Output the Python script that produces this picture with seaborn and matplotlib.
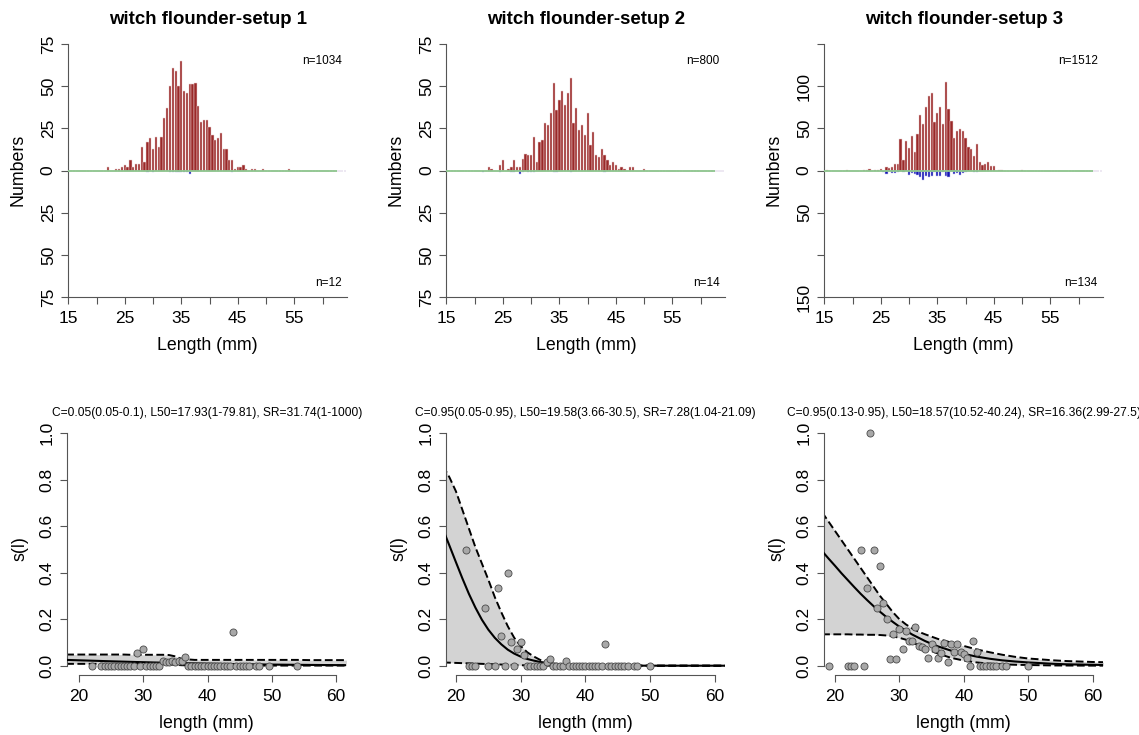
import numpy as np
import pandas as pd
import matplotlib.pyplot as plt
import seaborn as sns

sns.set_style("ticks")
plt.rcParams.update({
    "axes.edgecolor": "#555555",
    "axes.linewidth": 0.8,
    "axes.spines.top": False,
    "axes.spines.right": False,
    "text.color": "black",
    "axes.labelcolor": "black",
    "font.size": 12.5,
})
plt.rcParams["font.family"] = ["Liberation Sans", "DejaVu Sans"]

titles = ["witch flounder-setup 1", "witch flounder-setup 2", "witch flounder-setup 3"]
n_top = ["n=1034", "n=800", "n=1512"]
n_bottom = ["n=12", "n=14", "n=134"]
fit_text = [
    "C=0.05(0.05-0.1), L50=17.93(1-79.81), SR=31.74(1-1000)",
    "C=0.95(0.05-0.95), L50=19.58(3.66-30.5), SR=7.28(1.04-21.09)",
    "C=0.95(0.13-0.95), L50=18.57(10.52-40.24), SR=16.36(2.99-27.5)",
]

# ---- length frequencies (0.5 mm classes) ----
len1_red = [22, 23.5, 24, 24.5, 25, 25.5, 26, 26.5, 27, 27.5, 28, 28.5, 29, 29.5, 30, 30.5,
            31, 31.5, 32, 32.5, 33, 33.5, 34, 34.5, 35, 35.5, 36, 36.5, 37, 37.5, 38, 38.5,
            39, 39.5, 40, 40.5, 41, 41.5, 42, 42.5, 43, 43.5, 44, 44.5, 45, 45.5, 46, 46.5,
            47.5, 48, 49.5, 54]
cnt1_red = [2, 1, 1, 2, 3, 2, 6, 2, 4, 4, 14, 5, 17, 19, 13, 20, 14, 20, 31, 37, 50, 61, 59, 50,
            65, 47, 46, 51, 51, 52, 38, 29, 30, 30, 26, 21, 18, 19, 22, 13, 13, 6, 6, 1, 2, 2,
            3, 1, 1, 1, 1, 1]
len1_blue = [29, 30, 33, 33.5, 34, 34.5, 35, 35.5, 36, 36.5, 44]
cnt1_blue = [1, 1, 1, 1, 1, 1, 1, 1, 1, 2, 1]

len2_red = [22.5, 23, 24.5, 25, 26, 26.5, 27, 27.5, 28, 28.5, 29, 29.5, 30, 30.5, 31, 31.5,
            32, 32.5, 33, 33.5, 34, 34.5, 35, 35.5, 36, 36.5, 37, 37.5, 38, 38.5, 39, 39.5,
            40, 40.5, 41, 41.5, 42, 42.5, 43, 43.5, 44, 44.5, 45, 45.5, 46, 46.5, 47.5, 48, 50]
cnt2_red = [2, 1, 3, 6, 1, 2, 6, 2, 2, 7, 10, 9, 9, 20, 5, 17, 18, 28, 27, 34, 52, 36, 42, 47,
            39, 46, 55, 28, 37, 24, 27, 21, 34, 15, 23, 9, 8, 13, 9, 6, 3, 5, 3, 1, 2, 1, 2, 2, 1]
len2_blue = [21.5, 24.5, 26.5, 27, 28, 28.5, 29.5, 30, 30.5, 34, 34.5, 37, 43]
cnt2_blue = [1, 1, 1, 1, 2, 1, 1, 1, 1, 1, 1, 1, 1]

len3_red = [15.5, 19, 22, 22.5, 23, 24, 24.5, 25, 26, 26.5, 27, 27.5, 28, 28.5, 29, 29.5, 30,
            30.5, 31, 31.5, 32, 32.5, 33, 33.5, 34, 34.5, 35, 35.5, 36, 36.5, 37, 37.5, 38,
            38.5, 39, 39.5, 40, 40.5, 41, 41.5, 42, 42.5, 43, 43.5, 44, 44.5, 45, 46, 46.5, 50]
cnt3_red = [1, 1, 1, 1, 2, 1, 1, 2, 4, 3, 4, 8, 8, 37, 13, 35, 27, 41, 22, 43, 66, 55, 75, 88,
            92, 57, 68, 75, 55, 105, 73, 59, 39, 47, 49, 47, 38, 28, 26, 17, 32, 10, 6, 8, 10,
            5, 5, 1, 1, 1]
len3_blue = [24, 25, 25.5, 26, 26.5, 27, 27.5, 28, 28.5, 29, 29.5, 30, 30.5, 31, 31.5, 32, 32.5,
             33, 33.5, 34, 34.5, 35, 35.5, 36, 36.5, 37, 37.5, 38, 38.5, 39, 39.5, 40, 40.5,
             41.5, 42]
cnt3_blue = [1, 1, 2, 4, 1, 3, 3, 2, 1, 2, 1, 5, 3, 4, 5, 8, 11, 7, 8, 7, 2, 7, 6, 2, 6, 8, 1,
             4, 3, 5, 3, 2, 1, 2, 2]

# ---- observed proportions s(l) ----
len1_pts = len1_red
p1 = [0, 0, 0, 0, 0, 0, 0, 0, 0, 0, 0, 0, 0.056, 0, 0.071, 0, 0, 0, 0, 0, 0.020, 0.016, 0.017,
      0.020, 0.015, 0.021, 0.021, 0.038, 0, 0, 0, 0, 0, 0, 0, 0, 0, 0, 0, 0, 0, 0, 0.143, 0, 0,
      0, 0, 0, 0, 0, 0, 0]
len2_pts = [21.5, 22, 22.5, 23, 24.5, 25, 26, 26.5, 27, 27.5, 28, 28.5, 29, 29.5, 30, 30.5, 31,
            31.5, 32, 32.5, 33, 33.5, 34, 34.5, 35, 35.5, 36, 36.5, 37, 37.5, 38, 38.5, 39, 39.5,
            40, 40.5, 41, 41.5, 42, 42.5, 43, 43.5, 44, 44.5, 45, 45.5, 46, 46.5, 47.5, 48, 50]
p2 = [0.50, 0, 0, 0, 0.25, 0, 0, 0.333, 0.126, 0, 0.40, 0.10, 0, 0.072, 0.10, 0.047, 0, 0, 0,
      0, 0, 0, 0.017, 0.027, 0, 0, 0, 0, 0.020, 0, 0, 0, 0, 0, 0, 0, 0, 0, 0, 0, 0.092, 0, 0,
      0, 0, 0, 0, 0, 0, 0, 0]
len3_pts = [19, 22, 22.5, 23, 24, 24.5, 25, 25.5, 26, 26.5, 27, 27.5, 28, 28.5, 29, 29.5, 30,
            30.5, 31, 31.5, 32, 32.5, 33, 33.5, 34, 34.5, 35, 35.5, 36, 36.5, 37, 37.5, 38, 38.5,
            39, 39.5, 40, 40.5, 41, 41.5, 42, 42.5, 43, 43.5, 44, 44.5, 45, 46, 46.5, 50]
p3 = [0, 0, 0, 0, 0.50, 0, 0.333, 1.0, 0.50, 0.25, 0.43, 0.27, 0.20, 0.027, 0.135, 0.03, 0.156,
      0.07, 0.15, 0.108, 0.108, 0.165, 0.085, 0.082, 0.07, 0.034, 0.092, 0.07, 0.034, 0.056,
      0.099, 0.017, 0.092, 0.057, 0.092, 0.06, 0.05, 0.033, 0, 0.106, 0.057, 0, 0, 0, 0, 0, 0,
      0, 0, 0]

# ---- fitted curves with confidence bands ----
curve_len = [18, 19, 20, 21, 22, 23, 24, 25, 26, 27, 28, 29, 30, 31, 32, 33, 34, 35, 36, 38,
             40, 42, 44, 46, 48, 50, 52, 54, 56, 58, 60, 62]
fit1 = [0.0250, 0.0241, 0.0232, 0.0224, 0.0215, 0.0207, 0.0198, 0.0190, 0.0182, 0.0174, 0.0166,
        0.0158, 0.0151, 0.0144, 0.0137, 0.0130, 0.0124, 0.0117, 0.0111, 0.0100, 0.0089, 0.0080,
        0.0071, 0.0063, 0.0055, 0.0049, 0.0043, 0.0038, 0.0033, 0.0029, 0.0026, 0.0023]
hi1 = [0.048, 0.048, 0.048, 0.048, 0.048, 0.048, 0.048, 0.048, 0.048, 0.048, 0.047, 0.047, 0.047,
       0.047, 0.047, 0.047, 0.046, 0.040, 0.029, 0.025, 0.025, 0.025, 0.025, 0.025, 0.025, 0.025,
       0.025, 0.025, 0.024, 0.024, 0.024, 0.024]
lo1 = [0.008, 0.008, 0.008, 0.008, 0.008, 0.008, 0.008, 0.008, 0.008, 0.008, 0.008, 0.008, 0.008,
       0.007, 0.007, 0.007, 0.006, 0.004, 0.002, 0.001, 0.001, 0.001, 0.001, 0.001, 0.0005, 0.0005,
       0.0005, 0.0005, 0.0005, 0.0005, 0.0005, 0.0005]
fit2 = [0.586, 0.516, 0.445, 0.375, 0.309, 0.250, 0.198, 0.155, 0.120, 0.092, 0.069, 0.052,
        0.039, 0.029, 0.022, 0.016, 0.012, 0.009, 0.0067, 0.0036, 0.0020, 0.0011, 0.0006, 0.0003,
        0.0002, 0.0001, 0, 0, 0, 0, 0, 0]
hi2 = [0.86, 0.81, 0.75, 0.67, 0.59, 0.51, 0.44, 0.37, 0.295, 0.23, 0.17, 0.12, 0.085, 0.058,
       0.040, 0.025, 0.016, 0.010, 0.006, 0.002, 0.001, 0.0005, 0, 0, 0, 0, 0, 0, 0, 0, 0, 0]
lo2 = [0.014, 0.013, 0.012, 0.011, 0.010, 0.009, 0.008, 0.007, 0.006, 0.005, 0.004, 0.003,
       0.002, 0.0015, 0.001, 0.0008, 0.0005, 0.0003, 0.0002, 0, 0, 0, 0, 0, 0, 0, 0, 0, 0, 0, 0, 0]
fit3 = [0.493, 0.461, 0.430, 0.398, 0.368, 0.338, 0.309, 0.282, 0.256, 0.232, 0.209, 0.188,
        0.168, 0.151, 0.134, 0.120, 0.106, 0.094, 0.083, 0.065, 0.051, 0.039, 0.030, 0.023,
        0.018, 0.014, 0.011, 0.008, 0.006, 0.005, 0.004, 0.003]
hi3 = [0.66, 0.62, 0.58, 0.54, 0.50, 0.46, 0.42, 0.38, 0.34, 0.30, 0.265, 0.23, 0.20, 0.178,
       0.16, 0.146, 0.135, 0.125, 0.115, 0.10, 0.085, 0.07, 0.058, 0.047, 0.038, 0.031, 0.027,
       0.023, 0.020, 0.018, 0.016, 0.015]
lo3 = [0.135, 0.135, 0.135, 0.135, 0.135, 0.134, 0.134, 0.133, 0.133, 0.132, 0.130, 0.126, 0.120,
       0.112, 0.100, 0.088, 0.075, 0.063, 0.052, 0.034, 0.022, 0.014, 0.009, 0.006, 0.004, 0.003,
       0.002, 0.001, 0.0008, 0.0005, 0.0003, 0.0002]

hist_data = [(len1_red, cnt1_red, len1_blue, cnt1_blue),
             (len2_red, cnt2_red, len2_blue, cnt2_blue),
             (len3_red, cnt3_red, len3_blue, cnt3_blue)]
sel_data = [(len1_pts, p1, fit1, hi1, lo1),
            (len2_pts, p2, fit2, hi2, lo2),
            (len3_pts, p3, fit3, hi3, lo3)]
hist_ylim = [75, 75, 150]
# tick labels from bottom to top (counts below the line are shown as positive numbers)
hist_ticklabels = [["75", "50", "25", "0", "25", "50", "75"],
                   ["75", "50", "25", "0", "25", "50", "75"],
                   ["150", "", "50", "0", "50", "100", ""]]
sel_xlim = [(18.18, 61.6), (18.46, 61.55), (18.34, 61.66)]

W, H = 1139, 735
fig = plt.figure(figsize=(W / 100, H / 100), dpi=100)
top_left = [68.3, 446.4, 824.3]
bot_left = [67.3, 446.0, 824.3]
panel_w = 279


def style_axis(ax):
    ax.tick_params(axis="both", direction="out", length=5, width=0.8, color="#555555",
                   labelsize=12.5, labelcolor="black")
    ax.tick_params(axis="x", pad=5)
    ax.tick_params(axis="y", pad=4)
    ax.set_xlabel("")
    ax.set_ylabel("")


for i in range(3):
    len_r, cnt_r, len_b, cnt_b = hist_data[i]
    ax = fig.add_axes([top_left[i] / W, 1 - 297 / H, panel_w / W, 253 / H])
    red = pd.DataFrame({"length": len_r, "n": cnt_r})
    blue = pd.DataFrame({"length": len_b, "n": -np.asarray(cnt_b, dtype=float)})
    for df, fc, ec in ((red, "#9A2828", "#E9CFCF"), (blue, "#1414B4", "#C8C8F0")):
        sns.histplot(data=df, x="length", weights="n", binwidth=0.5, binrange=(14.75, 64.75),
                     shrink=0.8, alpha=1, facecolor=fc, edgecolor=ec, linewidth=0.35, ax=ax)
    ax.hlines(0, 15, 62.5, color="#8DC58D", lw=1.3, zorder=3)
    ym = hist_ylim[i]
    ax.set_xlim(15, 15 + panel_w / 5.65)
    ax.set_ylim(-ym, ym)
    ax.set_xticks(np.arange(15, 61, 5), ["15", "", "25", "", "35", "", "45", "", "55", ""])
    ax.set_yticks(np.linspace(-ym, ym, 7), hist_ticklabels[i], rotation=90, va="center")
    style_axis(ax)
    ax.text(0.98, 0.934, n_top[i], transform=ax.transAxes, ha="right", va="center", fontsize=8.5)
    ax.text(0.98, 0.055, n_bottom[i], transform=ax.transAxes, ha="right", va="center", fontsize=8.5)
    cx = (top_left[i] + panel_w / 2) / W
    fig.text(cx, 1 - 20 / H, titles[i], ha="center", va="center", fontsize=13.4, fontweight="bold")
    fig.text(cx, 1 - 345 / H, "Length (mm)", ha="center", va="center", fontsize=12.8)
    fig.text((top_left[i] - 50) / W, 1 - 170 / H, "Numbers", ha="center", va="center",
             rotation=90, fontsize=12.8)

for i in range(3):
    pts_len, pts_p, fit, hi, lo = sel_data[i]
    ax = fig.add_axes([bot_left[i] / W, 1 - 675 / H, panel_w / W, 251 / H])
    ax.fill_between(curve_len, lo, hi, color="#D3D3D3", lw=0, zorder=1)
    for band in (hi, lo):
        sns.lineplot(x=curve_len, y=band, color="black", lw=1.4, linestyle=(0, (4, 1.8)),
                     ax=ax, zorder=2)
    sns.lineplot(x=curve_len, y=fit, color="black", lw=1.5, ax=ax, zorder=3)
    sns.scatterplot(x=pts_len, y=pts_p, s=26, color="#A8A8A8", edgecolor="#4A4A4A",
                    linewidth=0.6, ax=ax, zorder=4)
    ax.set_xlim(*sel_xlim[i])
    ax.set_ylim(-0.04, 1.04)
    ax.spines["left"].set_bounds(0, 1)
    ax.spines["bottom"].set_bounds(20, 60)
    ax.set_xticks([20, 30, 40, 50, 60])
    ax.set_yticks(np.linspace(0, 1, 6), ["0.0", "0.2", "0.4", "0.6", "0.8", "1.0"],
                  rotation=90, va="center")
    style_axis(ax)
    cx = (bot_left[i] + panel_w / 2) / W
    fig.text(cx, 1 - 413 / H, fit_text[i], ha="center", va="center", fontsize=8.65)
    fig.text(cx, 1 - 724 / H, "length (mm)", ha="center", va="center", fontsize=12.8)
    fig.text((bot_left[i] - 47) / W, 1 - 549 / H, "s(l)", ha="center", va="center",
             rotation=90, fontsize=12.8)

fig.savefig("out.png", dpi=100)
